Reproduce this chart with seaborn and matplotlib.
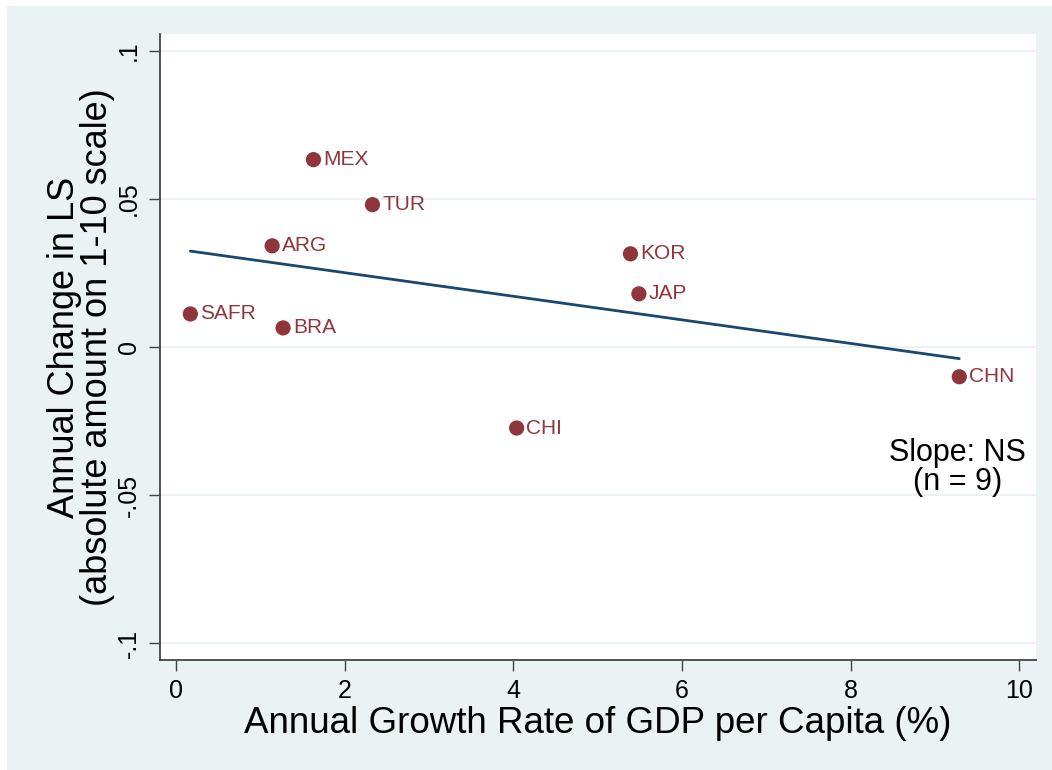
import matplotlib
matplotlib.use("Agg")
import matplotlib.pyplot as plt
import seaborn as sns
import pandas as pd
from matplotlib.patches import Rectangle

# datos
paises = ["MEX", "TUR", "ARG", "SAFR", "BRA", "KOR", "JAP", "CHI", "CHN"]
crecimiento_pib = [1.63, 2.33, 1.14, 0.17, 1.27, 5.39, 5.49, 4.04, 9.29]
cambio_ls = [0.0632, 0.0480, 0.0341, 0.0111, 0.0064, 0.0314, 0.0179, -0.0274, -0.0101]
x_ticks = [0, 2, 4, 6, 8, 10]
y_ticks = [-0.1, -0.05, 0, 0.05, 0.1]
y_tick_labels = ["-.1", "-.05", "0", ".05", ".1"]

df = pd.DataFrame({"pais": paises, "gdp": crecimiento_pib, "ls": cambio_ls})

sns.set_style("white")
plt.rcParams["font.family"] = ["Liberation Sans", "DejaVu Sans"]
plt.rcParams["text.color"] = "black"
plt.rcParams["axes.labelcolor"] = "black"
plt.rcParams["xtick.color"] = "black"
plt.rcParams["ytick.color"] = "black"

fondo = "#eaf2f3"
rojo = "#90353b"
azul = "#1a476f"

fig = plt.figure(figsize=(10.52, 7.70), dpi=100)
fig.patches.append(Rectangle((7 / 1052, 0), 1, 1 - 6 / 770, transform=fig.transFigure,
                             facecolor=fondo, edgecolor="none", zorder=-10))
ax = fig.add_axes([160 / 1052, 110 / 770, 876 / 1052, 626 / 770])
ax.set_facecolor("white")

sns.regplot(data=df, x="gdp", y="ls", ax=ax, ci=None, scatter=False,
            line_kws={"color": azul, "lw": 2}, truncate=True)
sns.scatterplot(data=df, x="gdp", y="ls", ax=ax, color=rojo, s=120,
                edgecolor="none", zorder=3)

for p, x, y in zip(paises, crecimiento_pib, cambio_ls):
    ax.annotate(p, (x, y), xytext=(7, 0), textcoords="offset points",
                ha="left", va="center", color=rojo, fontsize=15)

ax.set_xlim(-0.19, 10.2)
ax.set_ylim(-0.1057, 0.1056)
ax.set_xticks(x_ticks)
ax.set_xticklabels([str(t) for t in x_ticks])
ax.set_yticks(y_ticks)
ax.set_yticklabels(y_tick_labels, rotation=90, va="center")
ax.tick_params(axis="both", direction="out", length=8, width=1, color="#444444",
               labelsize=18, pad=6, bottom=True, left=True)

for y in y_ticks:
    ax.axhline(y, color=fondo, lw=1.5, zorder=0)

for lado in ["top", "right"]:
    ax.spines[lado].set_visible(False)
for lado in ["left", "bottom"]:
    ax.spines[lado].set_color("#444444")
    ax.spines[lado].set_linewidth(1.3)

ax.set_xlabel("Annual Growth Rate of GDP per Capita (%)", fontsize=26.5, labelpad=2)
ax.set_ylabel("Annual Change in LS\n(absolute amount on 1-10 scale)", fontsize=26,
              labelpad=1, linespacing=0.95)

ax.text(0.91, 0.307, "Slope: NS\n(n = 9)", transform=ax.transAxes, ha="center",
        va="center", fontsize=22, linespacing=0.95)

fig.savefig("out.png", dpi=100)
